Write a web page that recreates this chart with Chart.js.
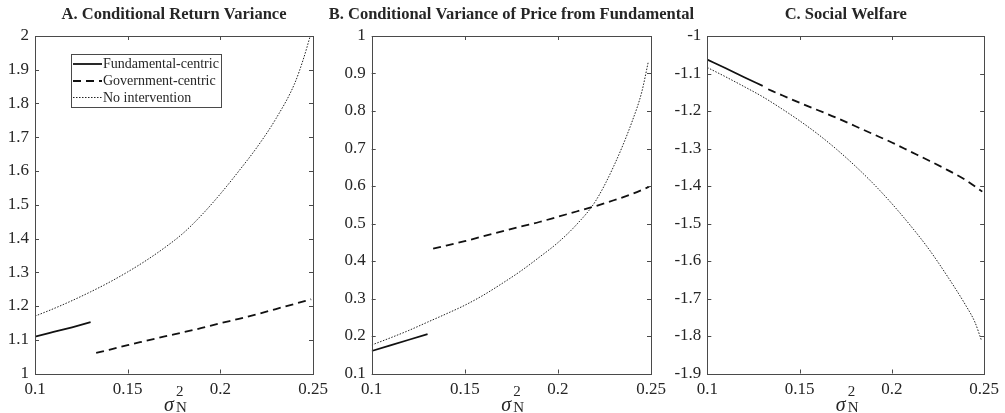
<!DOCTYPE html>
<html>
<head>
<meta charset="utf-8">
<script src="https://cdn.jsdelivr.net/npm/chart.js@4.4.0/dist/chart.umd.min.js"></script>
<style>
  body { margin: 0; background: #fff; width: 1005px; height: 413px; position: relative; overflow: hidden; }
  canvas { position: absolute; left: 0; top: 0; }
</style>
</head>
<body>
<canvas id="chartA" width="1005" height="413"></canvas>
<canvas id="chartB" width="1005" height="413"></canvas>
<canvas id="chartC" width="1005" height="413"></canvas>
<script>
// x values (sigma_N^2) for each regime
const xFund = [0.10, 0.11, 0.12, 0.13];
const xGov = [0.133, 0.14, 0.15, 0.16, 0.17, 0.18, 0.19, 0.20, 0.21, 0.22, 0.23, 0.24, 0.249];
const xNone = [0.10, 0.11, 0.12, 0.13, 0.14, 0.15, 0.16, 0.17, 0.18, 0.19, 0.20, 0.21, 0.22, 0.23, 0.24, 0.245, 0.2485];

// A. Conditional return variance
const fundA = [1.109, 1.123, 1.137, 1.152];
const govA = [1.061, 1.070, 1.084, 1.097, 1.110, 1.122, 1.135, 1.149, 1.162, 1.176, 1.191, 1.206, 1.220];
const noneA = [1.170, 1.192, 1.216, 1.242, 1.270, 1.301, 1.335, 1.373, 1.416, 1.470, 1.532, 1.600, 1.672, 1.755, 1.858, 1.935, 2.0];

// B. Conditional variance of price from fundamental
const fundB = [0.160, 0.175, 0.190, 0.205];
const govB = [0.433, 0.441, 0.453, 0.466, 0.479, 0.492, 0.504, 0.518, 0.532, 0.546, 0.562, 0.579, 0.598];
const noneB = [0.176, 0.195, 0.215, 0.237, 0.259, 0.282, 0.309, 0.340, 0.373, 0.410, 0.449, 0.497, 0.558, 0.653, 0.774, 0.850, 0.930];

// C. Social welfare
const fundC = [-1.063, -1.086, -1.110, -1.133];
const govC = [-1.142, -1.157, -1.178, -1.198, -1.218, -1.240, -1.262, -1.284, -1.308, -1.332, -1.357, -1.384, -1.415];
const noneC = [-1.084, -1.109, -1.135, -1.162, -1.193, -1.226, -1.262, -1.302, -1.346, -1.394, -1.447, -1.505, -1.568, -1.640, -1.718, -1.763, -1.811];

// tick labels
const xTicks = [0.1, 0.15, 0.2, 0.25];
const yTicksA = [1, 1.1, 1.2, 1.3, 1.4, 1.5, 1.6, 1.7, 1.8, 1.9, 2];
const yTicksB = [0.1, 0.2, 0.3, 0.4, 0.5, 0.6, 0.7, 0.8, 0.9, 1];
const yTicksC = [-1.9, -1.8, -1.7, -1.6, -1.5, -1.4, -1.3, -1.2, -1.1, -1];

const seriesNames = ['Fundamental-centric', 'Government-centric', 'No intervention'];
const titles = ['A. Conditional Return Variance', 'B. Conditional Variance of Price from Fundamental', 'C. Social Welfare'];

const serif = '"Liberation Serif", "Times New Roman", serif';
const textColor = '#262626';
const axisColor = '#4a4a4a';

const zip = (xs, ys) => xs.map((x, i) => ({ x: x, y: ys[i] }));

// MATLAB-like box: frame, inward ticks on all sides, title, sigma label, legend
const matlabBox = {
    id: 'matlabBox',
    afterDraw(chart, args, opts) {
        const { ctx, chartArea: a, scales } = chart;
        const tl = 4;
        ctx.save();
        ctx.strokeStyle = axisColor;
        ctx.lineWidth = 1;
        ctx.setLineDash([]);
        ctx.strokeRect(Math.round(a.left) + 0.5, Math.round(a.top) + 0.5,
            Math.round(a.right - a.left), Math.round(a.bottom - a.top));
        ctx.beginPath();
        scales.x.ticks.forEach(t => {
            const px = Math.round(scales.x.getPixelForValue(t.value)) + 0.5;
            ctx.moveTo(px, a.bottom); ctx.lineTo(px, a.bottom - tl);
            ctx.moveTo(px, a.top); ctx.lineTo(px, a.top + tl);
        });
        scales.y.ticks.forEach(t => {
            const py = Math.round(scales.y.getPixelForValue(t.value)) + 0.5;
            ctx.moveTo(a.left, py); ctx.lineTo(a.left + tl, py);
            ctx.moveTo(a.right, py); ctx.lineTo(a.right - tl, py);
        });
        ctx.stroke();

        // title
        const cx = (a.left + a.right) / 2;
        ctx.fillStyle = textColor;
        ctx.font = 'bold 16.5px ' + serif;
        ctx.textAlign = 'center';
        ctx.textBaseline = 'middle';
        ctx.fillText(opts.title, cx, 15);

        // x axis label: sigma_N^2
        const sx = cx - 10;
        ctx.textAlign = 'left';
        ctx.textBaseline = 'alphabetic';
        ctx.font = 'italic 20px ' + serif;
        ctx.fillText('σ', sx, 411);
        ctx.font = '15px ' + serif;
        ctx.fillText('2', sx + 12, 396);
        ctx.fillText('N', sx + 12, 412);

        // legend inside panel A
        if (opts.legend) {
            const lx = a.left + 36, ly = 54;
            ctx.fillStyle = '#fff';
            ctx.fillRect(lx, ly, 150, 53);
            ctx.strokeStyle = axisColor;
            ctx.strokeRect(lx + 0.5, ly + 0.5, 150, 53);
            const rows = [64, 81, 97.5];
            chart.data.datasets.forEach((ds, i) => {
                ctx.strokeStyle = ds.borderColor;
                ctx.lineWidth = ds.borderWidth;
                ctx.setLineDash(ds.borderDash || []);
                ctx.beginPath();
                ctx.moveTo(lx + 2, rows[i]);
                ctx.lineTo(lx + 31, rows[i]);
                ctx.stroke();
                ctx.setLineDash([]);
                ctx.fillStyle = textColor;
                ctx.font = '14px ' + serif;
                ctx.textBaseline = 'middle';
                ctx.fillText(ds.label, lx + 32, rows[i] + 0.5);
            });
        }
        ctx.restore();
    }
};

function makeChart(id, fund, gov, none, yTicks, left, right, title, legend) {
    const ctx = document.getElementById(id).getContext('2d');
    return new Chart(ctx, {
        type: 'line',
        data: {
            datasets: [
                { label: seriesNames[0], data: zip(xFund, fund), borderColor: '#111', borderWidth: 1.8 },
                { label: seriesNames[1], data: zip(xGov, gov), borderColor: '#111', borderWidth: 1.8, borderDash: [8, 5] },
                { label: seriesNames[2], data: zip(xNone, none), borderColor: '#222', borderWidth: 1, borderDash: [1.5, 1.5] }
            ]
        },
        options: {
            responsive: false,
            animation: false,
            devicePixelRatio: 1,
            layout: { padding: { left: left - 35, right: 1005 - right, top: 36, bottom: 0 } },
            elements: { point: { radius: 0 }, line: { cubicInterpolationMode: 'monotone' } },
            plugins: {
                legend: { display: false },
                tooltip: { enabled: false },
                matlabBox: { title: title, legend: legend }
            },
            scales: {
                x: {
                    type: 'linear',
                    min: 0.1,
                    max: 0.25,
                    afterBuildTicks: s => { s.ticks = xTicks.map(v => ({ value: v })); },
                    afterFit: s => { s.height = 39.5; },
                    grid: { display: false, drawTicks: false },
                    border: { display: false },
                    ticks: {
                        autoSkip: false,
                        maxRotation: 0,
                        padding: 6,
                        color: textColor,
                        font: { family: serif, size: 17 },
                        callback: v => String(v)
                    }
                },
                y: {
                    type: 'linear',
                    min: yTicks[0],
                    max: yTicks[yTicks.length - 1],
                    afterBuildTicks: s => { s.ticks = yTicks.map(v => ({ value: v })); },
                    afterFit: s => { s.width = 35; },
                    grid: { display: false, drawTicks: false },
                    border: { display: false },
                    ticks: {
                        autoSkip: false,
                        padding: 6,
                        color: textColor,
                        font: { family: serif, size: 17 },
                        callback: v => String(v)
                    }
                }
            }
        },
        plugins: [matlabBox]
    });
}

makeChart('chartA', fundA, govA, noneA, yTicksA, 35, 313, titles[0], true);
makeChart('chartB', fundB, govB, noneB, yTicksB, 371.7, 651, titles[1], false);
makeChart('chartC', fundC, govC, noneC, yTicksC, 707.3, 987.3, titles[2], false);
</script>
</body>
</html>
